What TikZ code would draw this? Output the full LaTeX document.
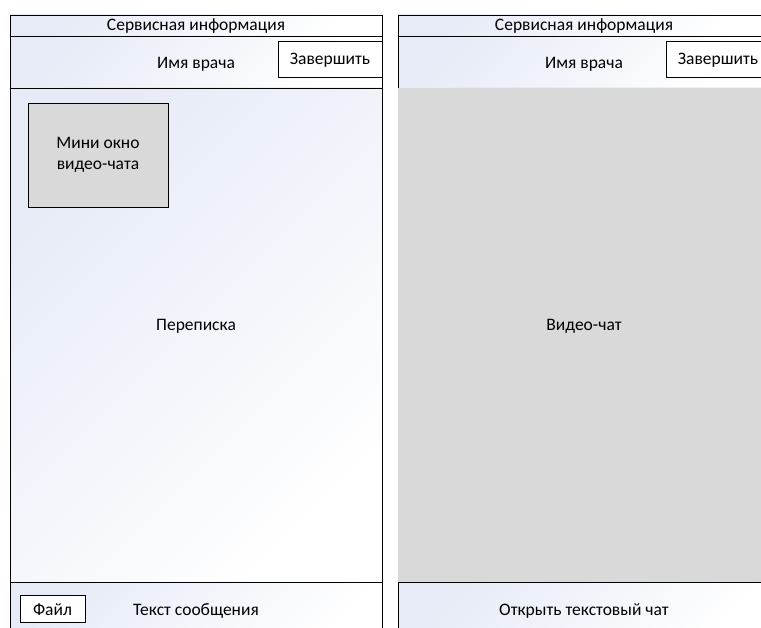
\documentclass[tikz,border=0pt]{standalone}
\usepackage{fontspec}
\setmainfont{Carlito}
\definecolor{panelblue}{RGB}{230,235,247}
\definecolor{videogrey}{RGB}{217,217,217}

\begin{document}
\begin{tikzpicture}[x=1pt,y=-1pt,
    band/.style={top color=panelblue,bottom color=white,shading angle=45},
    frame/.style={draw=black,line width=0.8pt},
    btn/.style={frame,fill=white,inner sep=0pt,text depth=0pt},
    lbl/.style={font=\fontsize{17.5}{21}\selectfont},
    txt/.style={lbl,anchor=base}]
  \useasboundingbox (0,0) rectangle (761,628);
  \clip (0,0) rectangle (761,628);
  \fill[white] (0,0) rectangle (761,628);

  % panels:
  \foreach \px/\pn in {10/L, 398/R} {
    \shade[band] (\px,15) rectangle ++(372,21);
    \shade[band] (\px,36) rectangle ++(372,52);
    \shade[band] (\px,88) rectangle ++(372,494);
    \shade[band] (\px,582) rectangle ++(372,60);
    \draw[frame] (\px,15) rectangle ++(372,627);
    \draw[frame] (\px,36) -- ++(372,0);
    \draw[frame] (\px,88) -- ++(372,0);
    \draw[frame] (\px,582) -- ++(372,0);
    \node[txt] (svc\pn) at (\px+186,31) {Сервисная информация};
    \node[txt] (doc\pn) at (\px+186,68.5) {Имя врача};
    \node[btn,lbl,minimum width=104pt,minimum height=36pt,text height=10.6pt] (end\pn) at (\px+320,59) {Завершить};
  }

  % left panel, text chat:
  \node[frame,fill=videogrey,lbl,align=center,minimum width=140pt,minimum height=104pt] (mini) at (98,155) {Мини окно\\видео-чата};
  \node[txt] (chat) at (196,331) {Переписка};
  \node[btn,lbl,minimum width=65pt,minimum height=27pt,text height=13pt] (file) at (52.5,608.5) {Файл};
  \node[txt] (msg) at (196,615.5) {Текст сообщения};

  % right panel, video chat:
  \fill[videogrey] (398.4,88.4) rectangle (770,581.6);
  \node[txt] (video) at (584,331) {Видео-чат};
  \node[txt] (open) at (584,615) {Открыть текстовый чат};
\end{tikzpicture}
\end{document}
